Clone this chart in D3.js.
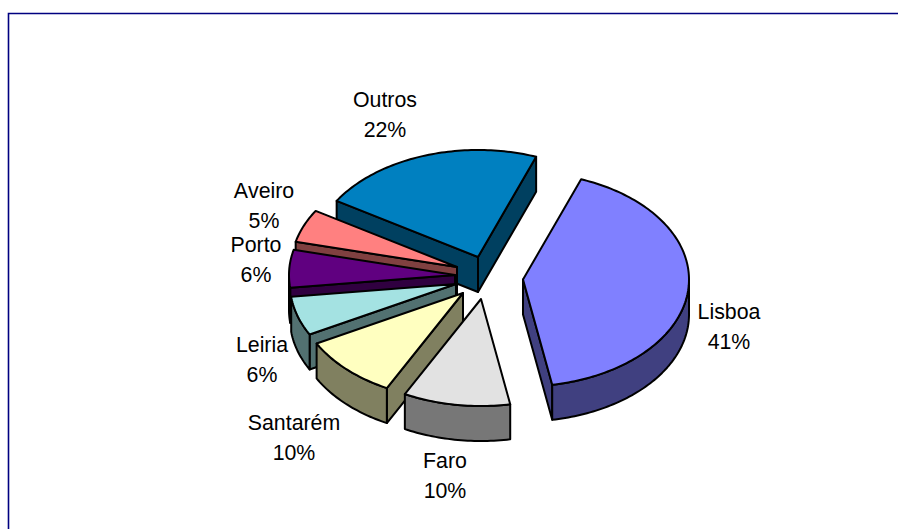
<!DOCTYPE html>
<html>
<head>
<meta charset="utf-8">
<script src="https://cdn.jsdelivr.net/npm/d3@7"></script>
<style>
html,body{margin:0;padding:0;background:#fff;overflow:hidden}
svg{display:block}
text{font-family:"Liberation Sans",Arial,sans-serif;font-size:21.33px;fill:#000;text-anchor:middle;font-kerning:none}
</style>
</head>
<body>
<div id="chart"></div>
<script>
// Data
const categories = ["Lisboa","Faro","Santarém","Leiria","Porto","Aveiro","Outros"];
const values = [41.49,10.4,9.6,5.9,5.7,5.0,21.91];

// Style
const topColors  = ["#8080FF","#E2E2E2","#FFFFC0","#A4E2E2","#600080","#FF8080","#0080C0"];
const sideColors = ["#404080","#777777","#808060","#527171","#300040","#804040","#004060"];

// Layout
const W = 898, H = 529;
const cx = 470, cy = 280, rx = 166, ry = 107, depth = 35;
const startDeg = 20.5;
const explodeX = [53,11,-7,-14,-15,-13,8];
const explodeY = [-0.5,19,13,4,-5,-13,-23];
const labelX = [729,445,294,262,256,264,385];
const labelY = [311,460,422,344,244,190,99];
const lineGap = 30;
const drawOrder = [6,5,4,3,2,1,0];

const svg = d3.select("#chart").append("svg").attr("width",W).attr("height",H);

svg.append("path")
  .attr("d",(()=>{const p=d3.path();p.moveTo(8.5,H);p.lineTo(8.5,13.5);p.lineTo(W,13.5);return p.toString();})())
  .attr("fill","none").attr("stroke","#000080").attr("stroke-width",1.6);

const pie = d3.pie().sort(null).value(d=>d)
  .startAngle(startDeg*Math.PI/180).endAngle((startDeg+360)*Math.PI/180);
const arcs = pie(values);

const sx = d3.scaleLinear().domain([-1,1]).range([-rx,rx]);
const sy = d3.scaleLinear().domain([-1,1]).range([-ry,ry]);
const px = a => sx(Math.sin(a));
const py = a => sy(-Math.cos(a));

function arcPts(a0,a1,ox,oy){
  const n = Math.max(2,Math.ceil(Math.abs(a1-a0)/0.02));
  return d3.range(n+1).map(i=>{const a=a0+(a1-a0)*i/n;return [ox+px(a),oy+py(a)];});
}
const line = d3.line();
const lineClosed = pts => line(pts)+"Z";

function draw(g,d,fill){
  g.append("path").attr("d",d).attr("fill",fill)
   .attr("stroke","#000").attr("stroke-width",2).attr("stroke-linejoin","round");
}

drawOrder.forEach(i=>{
  const arc = arcs[i];
  const a0 = arc.startAngle, a1 = arc.endAngle;
  const ox = cx+explodeX[i], oy = cy+explodeY[i];
  const g = svg.append("g").attr("class","slice");
  const p0 = [ox+px(a0),oy+py(a0)], p1 = [ox+px(a1),oy+py(a1)], apex=[ox,oy];

  // radial cut faces: visible only when the outward normal points towards the viewer
  const wall = p => lineClosed([apex,p,[p[0],p[1]+depth],[apex[0],apex[1]+depth]]);
  if(-(p0[0]-apex[0])>0) draw(g,wall(p0),sideColors[i]);
  if((p1[0]-apex[0])>0) draw(g,wall(p1),sideColors[i]);

  // outer rim: the part of the arc in the lower half of the ellipse
  const lo = Math.max(a0,Math.PI/2), hi = Math.min(a1,Math.PI*1.5);
  if(hi>lo){
    const top = arcPts(lo,hi,ox,oy);
    const bottom = top.map(q=>[q[0],q[1]+depth]).reverse();
    draw(g,lineClosed(top.concat(bottom)),sideColors[i]);
  }
  // top face
  draw(g,lineClosed([apex].concat(arcPts(a0,a1,ox,oy))),topColors[i]);
});

const fmt = d3.format(".0f");
categories.forEach((c,i)=>{
  svg.append("text").attr("x",labelX[i]).attr("y",labelY[i]+7.5).text(c);
  svg.append("text").attr("x",labelX[i]).attr("y",labelY[i]+7.5+lineGap).text(fmt(values[i])+"%");
});
</script>
</body>
</html>
